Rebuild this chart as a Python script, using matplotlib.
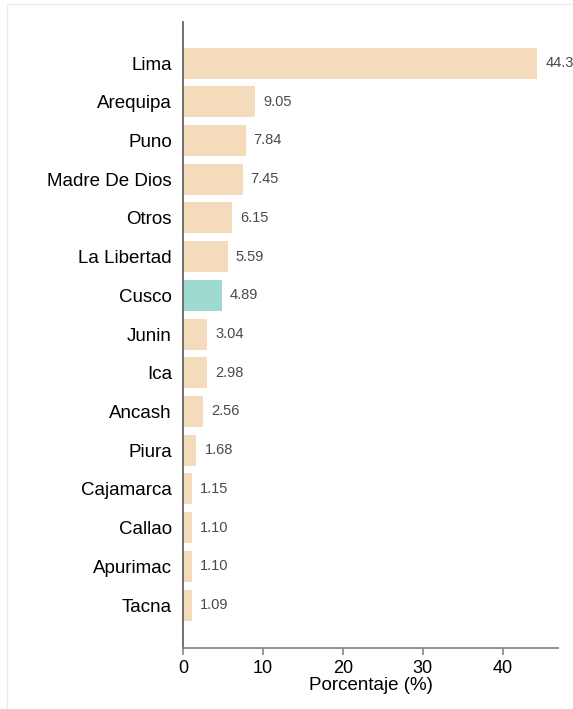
import matplotlib
matplotlib.use("Agg")
import matplotlib.pyplot as plt
from matplotlib.patches import Rectangle

regiones = ["Lima", "Arequipa", "Puno", "Madre De Dios", "Otros", "La Libertad",
            "Cusco", "Junin", "Ica", "Ancash", "Piura", "Cajamarca", "Callao",
            "Apurimac", "Tacna"]
porcentajes = [44.33, 9.05, 7.84, 7.45, 6.15, 5.59, 4.89, 3.04, 2.98, 2.56,
               1.68, 1.15, 1.10, 1.10, 1.09]
destacado = "Cusco"

plt.rcParams["font.family"] = ["Liberation Sans", "DejaVu Sans"]

fig = plt.figure(figsize=(5.73, 7.09), dpi=100)
ax = fig.add_axes([183 / 573, 1 - 648 / 709, (558 - 183) / 573, (648 - 22) / 709])

# marco claro de la figura
fig.patches.append(Rectangle((7 / 573, -0.05), 1.1, 1.05 - 4 / 709,
                             transform=fig.transFigure, fill=False,
                             edgecolor="#ececec", linewidth=1))

colores = ["#9fdad0" if r == destacado else "#f3dbbb" for r in regiones]
pos = list(range(len(regiones)))
ax.barh(pos, porcentajes, height=0.8, color=colores)

# etiquetas de valor (la de Lima queda cortada en el borde, como en el original)
for p, v in zip(pos, porcentajes):
    ax.text(v + 1.0, p, f"{v:.2f}", va="center", ha="left",
            fontsize=10.5, color="#4a4a4a", clip_on=False)

ax.set_yticks(pos)
ax.set_yticklabels(regiones, fontsize=13.5)
ax.set_ylim(len(regiones) - 1 + 1.11, -1.06)
ax.set_xlim(0, 46.9)
ax.set_xticks([0, 10, 20, 30, 40])
ax.tick_params(axis="x", labelsize=13, length=5, color="#888888", width=1.2)
ax.tick_params(axis="y", length=0, pad=8)
ax.set_xlabel("Porcentaje (%)", fontsize=13.5, labelpad=0)

for s in ["top", "right"]:
    ax.spines[s].set_visible(False)
ax.spines["left"].set_color("#666666")
ax.spines["bottom"].set_color("#888888")
ax.spines["left"].set_linewidth(1.3)
ax.spines["bottom"].set_linewidth(1.3)

plt.savefig("out.png", dpi=100)
plt.close()
